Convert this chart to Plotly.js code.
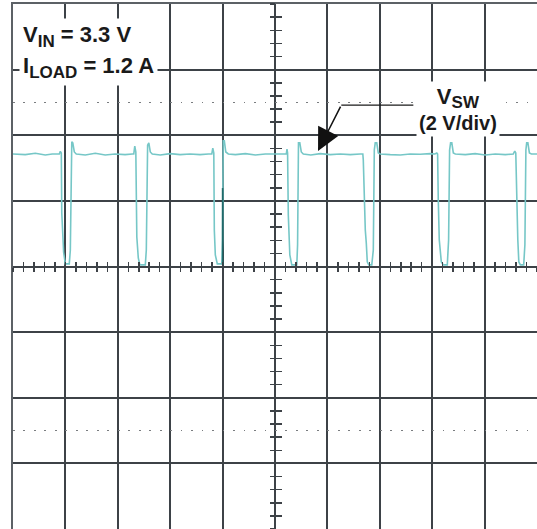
<!DOCTYPE html>
<html>
<head>
<meta charset="utf-8">
<script src="https://cdn.plot.ly/plotly-3.0.1.min.js"></script>
<style>
html,body{margin:0;padding:0;background:#fff;overflow:hidden;}
#chart{width:537px;height:529px;}
</style>
</head>
<body>
<div id="chart"></div>
<script>
// time axis in horizontal divisions, voltage in volts (2 V/div)
const timeDiv = [0, 0.235, 0.426, 0.616, 0.75, 0.845,
  0.884, 0.903, 0.922, 0.931, 0.966, 0.998, 1.074, 1.094, 1.122, 1.141, 1.170, 1.208,
  1.38, 1.57, 1.76, 1.95, 2.14, 2.28,
  2.305, 2.324, 2.344, 2.363, 2.391, 2.42, 2.525, 2.544, 2.569, 2.592, 2.620, 2.658,
  2.81, 3.00, 3.19, 3.38, 3.57, 3.73,
  3.794, 3.813, 3.832, 3.842, 3.861, 3.899, 3.985, 4.0, 4.011, 4.033, 4.061, 4.109,
  4.245, 4.436, 4.626, 4.815, 5.006, 5.158,
  5.216, 5.229, 5.24, 5.254, 5.283, 5.32, 5.416, 5.431, 5.448, 5.473, 5.502, 5.54,
  5.683, 5.865, 6.055, 6.246, 6.437, 6.628,
  6.676, 6.685, 6.695, 6.723, 6.742, 6.761, 6.790, 6.847, 6.876, 6.895, 6.913, 6.942, 6.971, 7.01,
  7.2, 7.39, 7.58, 7.77, 7.96, 8.05,
  8.088, 8.103, 8.116, 8.135, 8.174, 8.212, 8.288, 8.313, 8.332, 8.351, 8.374, 8.403, 8.441,
  8.632, 8.82, 9.013, 9.204, 9.395, 9.548,
  9.576, 9.595, 9.615, 9.634, 9.653, 9.683, 9.746, 9.769, 9.788, 9.803, 9.826, 9.855, 9.893, 10];

const vswVolts = [3.43, 3.41, 3.45, 3.40, 3.43, 3.42,
  3.43, 3.51, 3.46, 1.63, 0.44, 0.08, 0.08, 0.50, 3.80, 3.77, 3.49, 3.43,
  3.40, 3.45, 3.40, 3.43, 3.41, 3.43,
  3.43, 3.67, 3.49, 0.90, 0.26, 0.05, 0.05, 0.50, 3.70, 3.77, 3.49, 3.43,
  3.40, 3.44, 3.41, 3.43, 3.41, 3.43,
  3.43, 3.61, 3.46, 1.11, 0.35, 0.08, 0.08, 0.81, 3.83, 3.83, 3.49, 3.43,
  3.41, 3.44, 3.40, 3.43, 3.42, 3.43,
  3.43, 3.58, 3.46, 1.57, 0.35, 0.05, 0.05, 0.66, 3.77, 3.77, 3.49, 3.43,
  3.40, 3.44, 3.41, 3.43, 3.41, 3.43,
  3.43, 3.25, 2.58, 1.11, 0.72, 0.14, 0.05, 0.05, 0.50, 3.55, 3.77, 3.77, 3.46, 3.43,
  3.41, 3.40, 3.43, 3.42, 3.44, 3.43,
  3.46, 3.43, 2.03, 0.81, 0.14, 0.05, 0.05, 0.81, 3.55, 3.77, 3.77, 3.46, 3.43,
  3.41, 3.44, 3.40, 3.43, 3.41, 3.43,
  3.52, 3.46, 1.81, 0.81, 0.14, 0.05, 0.05, 0.66, 3.55, 3.77, 3.77, 3.46, 3.43, 3.43];

// darker trace segment (persistence artifact)
const darkTimeDiv = [4.0, 4.0];
const darkVolts = [2.39, 0.05];

// rise-time dotted graticule rows (volts)
const dottedRows = [-5, 5];

// labels
const SUB = '<span style="font-size:17px">';
const labelVin = '<b>V<sub>' + SUB + 'IN</span></sub> = 3.3 V</b>';
const labelIload = '<b>I<sub>' + SUB + 'LOAD</span></sub> = 1.2 A</b>';
const labelVsw = '<b><span style="font-size:22px">V</span><sub>' + SUB + 'SW</span></sub><br>(2 V/div)</b>';

// arrow: tail (on leader) and tip (on trace)
const arrowTail = [6.265, 4.92];
const arrowTip = [5.821, 3.52];
const leaderEndX = 7.64;

const GRID = '#3d4247';
const FONT = 'Liberation Sans, Arial, Helvetica, sans-serif';

const blank = {showticklabels:false, zeroline:false, showgrid:false, showline:false, fixedrange:true};

const traces = [
  {x: timeDiv, y: vswVolts, type:'scatter', mode:'lines', line:{color:'#76c7c7', width:1.6}, hoverinfo:'skip'},
  {x: darkTimeDiv, y: darkVolts, type:'scatter', mode:'lines', line:{color:'#1f6b6b', width:1.6}, hoverinfo:'skip'},
  {x: [], y: [], xaxis:'x2', yaxis:'y', type:'scatter'},
  {x: [], y: [], xaxis:'x3', yaxis:'y', type:'scatter'},
  {x: [], y: [], xaxis:'x', yaxis:'y2', type:'scatter'},
  {x: [], y: [], xaxis:'x', yaxis:'y3', type:'scatter'},
  {x: [], y: [], xaxis:'x', yaxis:'y4', type:'scatter'}
];

const layout = {
  width: 537, height: 529, autosize: false,
  margin: {l:13, r:0, t:4, b:0, pad:0},
  paper_bgcolor:'#ffffff', plot_bgcolor:'#ffffff',
  showlegend: false,
  xaxis: {range:[0,10], tick0:0, dtick:1, showgrid:true, gridcolor:GRID, gridwidth:2,
          zeroline:false, showticklabels:false, ticks:'', showline:true, mirror:true,
          linecolor:'#5c6166', linewidth:2.5, fixedrange:true},
  yaxis: {range:[-8,8], tick0:0, dtick:2, showgrid:true, gridcolor:GRID, gridwidth:2,
          zeroline:false, showticklabels:false, ticks:'', showline:true, mirror:true,
          linecolor:'#5c6166', linewidth:2.5, fixedrange:true},
  xaxis2: Object.assign({}, blank, {overlaying:'x', anchor:'free', position:0.5, range:[0,10],
          tick0:0, dtick:0.2, ticks:'outside', ticklen:4.5, tickwidth:1.5, tickcolor:GRID}),
  xaxis3: Object.assign({}, blank, {overlaying:'x', anchor:'free', position:0.5, range:[0,10],
          tick0:0, dtick:0.2, ticks:'inside', ticklen:4.5, tickwidth:1.5, tickcolor:GRID}),
  yaxis2: Object.assign({}, blank, {overlaying:'y', anchor:'free', position:0.5, side:'left', range:[-8,8],
          tick0:0, dtick:0.4, ticks:'outside', ticklen:5.5, tickwidth:1.5, tickcolor:GRID}),
  yaxis3: Object.assign({}, blank, {overlaying:'y', anchor:'free', position:0.5, side:'left', range:[-8,8],
          tick0:0, dtick:0.4, ticks:'inside', ticklen:5.5, tickwidth:1.5, tickcolor:GRID}),
  yaxis4: Object.assign({}, blank, {overlaying:'y', anchor:'x', range:[-8,8], tickmode:'array',
          tickvals: dottedRows, ticks:'', showgrid:true, gridcolor:'#7a7d80', gridwidth:1.8,
          griddash:'1.8px,8.68px'}),
  shapes: [
    {type:'line', xref:'x', yref:'y', x0:arrowTail[0], x1:leaderEndX, y0:arrowTail[1], y1:arrowTail[1],
     line:{color:'#1a1a1a', width:1.3}}
  ],
  annotations: [
    {x:0.12, y:7.02, xref:'x', yref:'y', text:labelVin, showarrow:false, xanchor:'left', yanchor:'middle',
     bgcolor:'#ffffff', borderpad:3, font:{family:FONT, size:22, color:'#1a1a1a'}},
    {x:0.12, y:6.05, xref:'x', yref:'y', text:labelIload, showarrow:false, xanchor:'left', yanchor:'middle',
     bgcolor:'#ffffff', borderpad:3, font:{family:FONT, size:22, color:'#1a1a1a'}},
    {x:8.49, y:4.8, xref:'x', yref:'y', text:labelVsw, showarrow:false, xanchor:'center', yanchor:'middle',
     bgcolor:'#ffffff', borderpad:2, font:{family:FONT, size:20, color:'#1a1a1a'}},
    {x:arrowTip[0], y:arrowTip[1], xref:'x', yref:'y', ax:arrowTail[0], ay:arrowTail[1], axref:'x', ayref:'y',
     text:'', showarrow:true, arrowhead:2, arrowsize:3, arrowwidth:1.5, arrowcolor:'#111111', standoff:0}
  ]
};

Plotly.newPlot('chart', traces, layout, {staticPlot:true, displayModeBar:false});
</script>
</body>
</html>
